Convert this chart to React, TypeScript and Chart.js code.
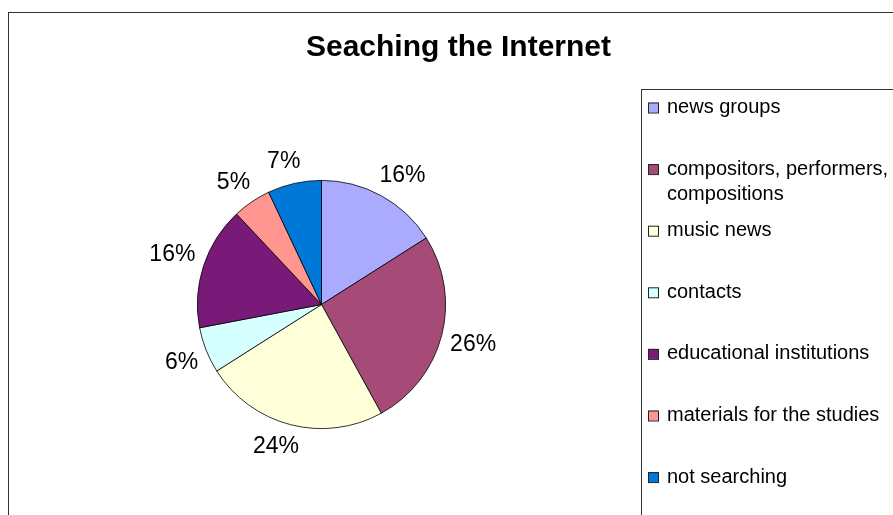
import React, { useEffect, useRef } from "react";
import { Chart, registerables } from "chart.js";

Chart.register(...registerables);

const TITLE = "Seaching the Internet";
const categories = [
  "news groups",
  "compositors, performers, compositions",
  "music news",
  "contacts",
  "educational institutions",
  "materials for the studies",
  "not searching",
];
const shares = [16, 26, 24, 6, 16, 5, 7];
const sliceColors = ["#AAAAFF", "#A64A78", "#FFFFD9", "#D6FFFF", "#7A1A78", "#FF9690", "#0078D7"];

const FONT = "'Liberation Sans', Arial, sans-serif";

const framePlugin = {
  id: "frame",
  beforeDraw(chart: any) {
    const ctx = chart.ctx;
    ctx.save();
    ctx.fillStyle = "#ffffff";
    ctx.fillRect(0, 0, chart.width, chart.height);
    ctx.strokeStyle = "#333333";
    ctx.lineWidth = 1;
    ctx.strokeRect(8.5, 12.5, 1000, 1000);
    ctx.restore();
  },
  afterDraw(chart: any) {
    const ctx = chart.ctx;
    ctx.save();
    // title
    ctx.fillStyle = "#000";
    ctx.font = `bold 30px ${FONT}`;
    ctx.textAlign = "center";
    ctx.textBaseline = "alphabetic";
    ctx.fillText(TITLE, 458.5, 56);

    // percentage labels (outside end)
    const meta = chart.getDatasetMeta(0);
    const data = chart.data.datasets[0].data as number[];
    const total = data.reduce((a, b) => a + b, 0);
    ctx.font = `23px ${FONT}`;
    ctx.textBaseline = "middle";
    const soft = (t: number) => Math.sign(t) * Math.sqrt(Math.abs(t));
    meta.data.forEach((arc: any, i: number) => {
      const mid = (arc.startAngle + arc.endAngle) / 2;
      const txt = Math.round((data[i] / total) * 100) + "%";
      const w = ctx.measureText(txt).width;
      const cx = Math.cos(mid);
      const sy = Math.sin(mid);
      const r = arc.outerRadius + 5;
      const x = arc.x + cx * r + soft(cx) * (w / 2 + 4);
      const y = arc.y + sy * r + soft(sy) * 17;
      ctx.fillText(txt, x, y);
    });

    // legend
    ctx.strokeStyle = "#333333";
    ctx.lineWidth = 1;
    ctx.strokeRect(641.5, 89.5, 600, 600);
    ctx.font = `20px ${FONT}`;
    ctx.textAlign = "left";
    ctx.textBaseline = "middle";
    const labels = chart.data.labels as string[];
    const colors = chart.data.datasets[0].backgroundColor as string[];
    const maxW = 226;
    const step = 61.6;
    labels.forEach((lab, i) => {
      const y0 = 107.5 + i * step;
      ctx.fillStyle = colors[i];
      ctx.fillRect(648, y0 - 5, 10, 10);
      ctx.strokeStyle = "#222";
      ctx.strokeRect(648.5, y0 - 4.5, 10, 10);
      const words = lab.split(" ");
      const lines: string[] = [];
      let cur = "";
      words.forEach((w) => {
        const t = cur ? cur + " " + w : w;
        if (ctx.measureText(t).width > maxW && cur) {
          lines.push(cur);
          cur = w;
        } else cur = t;
      });
      if (cur) lines.push(cur);
      ctx.fillStyle = "#000";
      lines.forEach((ln, k) => ctx.fillText(ln, 667, y0 + k * 25));
    });
    ctx.restore();
  },
};

export default function App() {
  const ref = useRef<HTMLCanvasElement | null>(null);
  useEffect(() => {
    if (!ref.current) return;
    const chart = new Chart(ref.current, {
      type: "pie",
      data: {
        labels: categories,
        datasets: [
          {
            data: shares,
            backgroundColor: sliceColors,
            borderColor: "#000000",
            borderWidth: 0.8,
          },
        ],
      },
      options: {
        responsive: false,
        animation: false,
        events: [],
        layout: { padding: { left: 197, right: 447, top: 180, bottom: 86 } },
        plugins: {
          legend: { display: false },
          title: { display: false },
          tooltip: { enabled: false },
        },
      },
      plugins: [framePlugin],
    });
    return () => chart.destroy();
  }, []);
  return (
    <div style={{ position: "fixed", left: 0, top: 0, width: 893, height: 515, overflow: "hidden", background: "#fff" }}>
      <canvas ref={ref} width={893} height={515} style={{ display: "block", width: 893, height: 515 }} />
    </div>
  );
}
